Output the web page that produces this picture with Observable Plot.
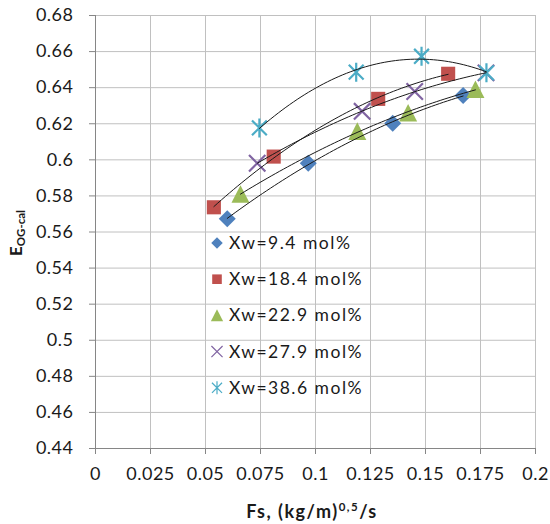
<!DOCTYPE html>
<html>
<head>
<meta charset="utf-8">
<script src="https://cdn.jsdelivr.net/npm/d3@7"></script>
<script src="https://cdn.jsdelivr.net/npm/@observablehq/plot@0.6"></script>
<style>
  html, body { margin: 0; padding: 0; background: #fff; }
  #chart svg { display: block; }
  #chart svg g[aria-label="x-axis tick label"] text,
  #chart svg g[aria-label="y-axis tick label"] text { letter-spacing: 0.5px; }
</style>
</head>
<body>
<div id="chart"></div>
<script>
// ---- Data ----
const xTicks = [0, 0.025, 0.05, 0.075, 0.1, 0.125, 0.15, 0.175, 0.2];
const xTickLabels = ["0", "0.025", "0.05", "0.075", "0.1", "0.125", "0.15", "0.175", "0.2"];
const yTicks = [0.44, 0.46, 0.48, 0.5, 0.52, 0.54, 0.56, 0.58, 0.6, 0.62, 0.64, 0.66, 0.68];
const yTickLabels = ["0.44", "0.46", "0.48", "0.5", "0.52", "0.54", "0.56", "0.58", "0.6", "0.62", "0.64", "0.66", "0.68"];

const seriesNames = ["Xw=9.4 mol%", "Xw=18.4 mol%", "Xw=22.9 mol%", "Xw=27.9 mol%", "Xw=38.6 mol%"];
const fs_94  = [0.0599, 0.0967, 0.1351, 0.1671];
const e_94   = [0.5673, 0.5981, 0.6203, 0.6357];
const fs_184 = [0.0538, 0.0810, 0.1285, 0.1603];
const e_184  = [0.5737, 0.6018, 0.6338, 0.6477];
const fs_229 = [0.0659, 0.1190, 0.1421, 0.1727];
const e_229  = [0.5809, 0.6158, 0.6260, 0.6390];
const fs_279 = [0.0735, 0.1212, 0.1451, 0.1775];
const e_279  = [0.5981, 0.6269, 0.6379, 0.6482];
const fs_386 = [0.0745, 0.1185, 0.1482, 0.1777];
const e_386  = [0.6177, 0.6486, 0.6574, 0.6482];

const xLabel = "Fs, (kg/m)";
const xLabelSup = "0,5";
const xLabelEnd = "/s";
const yLabelMain = "E";
const yLabelSub = "OG-cal";

const FONT = "Lato, 'Open Sans', sans-serif";

// ---- Symbols ----
const rad = (size) => Math.sqrt(size / Math.PI);
const symDiamond = { draw(c, size) { const r = rad(size); c.moveTo(0, -r); c.lineTo(r, 0); c.lineTo(0, r); c.lineTo(-r, 0); c.closePath(); } };
const symSquare = { draw(c, size) { const r = rad(size) * 0.85; c.rect(-r, -r, 2 * r, 2 * r); } };
const symTriangle = { draw(c, size) { const r = rad(size); c.moveTo(0, -r); c.lineTo(r, r * 0.95); c.lineTo(-r, r * 0.95); c.closePath(); } };
const symTimes = { draw(c, size) { const r = rad(size); c.moveTo(-r, -r); c.lineTo(r, r); c.moveTo(r, -r); c.lineTo(-r, r); } };
const symStar = { draw(c, size) { const r = rad(size); const d = r * 0.78; c.moveTo(0, -r); c.lineTo(0, r); c.moveTo(-d, -d); c.lineTo(d, d); c.moveTo(d, -d); c.lineTo(-d, d); } };

const series = [
  { name: seriesNames[0], xs: fs_94, ys: e_94, sym: symDiamond, color: "#4F81BD", filled: true, r: 8.5 },
  { name: seriesNames[1], xs: fs_184, ys: e_184, sym: symSquare, color: "#C0504D", filled: true, r: 8.3 },
  { name: seriesNames[2], xs: fs_229, ys: e_229, sym: symTriangle, color: "#9BBB59", filled: true, r: 9 },
  { name: seriesNames[3], xs: fs_279, ys: e_279, sym: symTimes, color: "#8064A2", filled: false, r: 8.2 },
  { name: seriesNames[4], xs: fs_386, ys: e_386, sym: symStar, color: "#4BACC6", filled: false, r: 9.5 }
];

// ---- Quadratic (order 2 polynomial) trendline via least squares ----
function quadFit(xs, ys) {
  let S = [0,0,0,0,0], T = [0,0,0];
  xs.forEach((x, i) => {
    for (let k = 0; k < 5; k++) S[k] += Math.pow(x, k);
    for (let k = 0; k < 3; k++) T[k] += ys[i] * Math.pow(x, k);
  });
  const A = [[S[0], S[1], S[2], T[0]], [S[1], S[2], S[3], T[1]], [S[2], S[3], S[4], T[2]]];
  for (let i = 0; i < 3; i++) {
    let p = i;
    for (let j = i + 1; j < 3; j++) if (Math.abs(A[j][i]) > Math.abs(A[p][i])) p = j;
    [A[i], A[p]] = [A[p], A[i]];
    for (let j = 0; j < 3; j++) {
      if (j === i) continue;
      const f = A[j][i] / A[i][i];
      for (let k = i; k < 4; k++) A[j][k] -= f * A[i][k];
    }
  }
  const c = [A[0][3] / A[0][0], A[1][3] / A[1][1], A[2][3] / A[2][2]];
  return (x) => c[0] + c[1] * x + c[2] * x * x;
}

const marks = [
  Plot.gridX(xTicks, { stroke: "#c0c0c0", strokeOpacity: 1, strokeWidth: 1 }),
  Plot.gridY(yTicks, { stroke: "#c0c0c0", strokeOpacity: 1, strokeWidth: 1 }),
  Plot.ruleX([0], { stroke: "#868686" }),
  Plot.ruleY([0.44], { stroke: "#868686" }),
  Plot.axisX(xTicks, { tickSize: 6, tickPadding: 13, stroke: "#868686", fill: "#1a1a1a", fontSize: 18, tickFormat: d => xTickLabels[xTicks.indexOf(d)], label: null }),
  Plot.axisY(yTicks, { tickSize: 6, tickPadding: 16, stroke: "#868686", fill: "#1a1a1a", fontSize: 18, tickFormat: d => yTickLabels[yTicks.indexOf(d)], label: null })
];

series.forEach(s => {
  const pts = s.xs.map((x, i) => ({ x, y: s.ys[i] }));
  marks.push(Plot.dot(pts, {
    x: "x", y: "y", symbol: s.sym, r: s.r,
    fill: s.filled ? s.color : "none",
    stroke: s.filled ? "none" : s.color,
    strokeWidth: s.filled ? 0 : 2.2
  }));
});

series.forEach(s => {
  const f = quadFit(s.xs, s.ys);
  const lo = d3.min(s.xs), hi = d3.max(s.xs);
  const N = 60;
  const curve = d3.range(N + 1).map(i => { const x = lo + (hi - lo) * i / N; return { x, y: f(x) }; });
  marks.push(Plot.line(curve, { x: "x", y: "y", stroke: "#1a1a1a", strokeWidth: 1 }));
});

const plot = Plot.plot({
  width: 550,
  height: 524,
  marginLeft: 95,
  marginRight: 15,
  marginTop: 15,
  marginBottom: 76,
  style: { fontFamily: FONT, background: "#fff", overflow: "visible" },
  x: { domain: [0, 0.2] },
  y: { domain: [0.44, 0.68] },
  marks
});

document.getElementById("chart").appendChild(plot);

// ---- Axis titles and in-plot legend ----
const svg = d3.select(plot);
const xl = svg.append("text")
  .attr("x", 312).attr("y", 518)
  .attr("text-anchor", "middle")
  .attr("font-family", FONT)
  .attr("letter-spacing", 1.5)
  .attr("font-weight", "bold").attr("font-size", 18).attr("fill", "#1a1a1a");
xl.append("tspan").text(xLabel);
xl.append("tspan").attr("font-size", 11.5).attr("dy", -7).text(xLabelSup);
xl.append("tspan").attr("dy", 7).text(xLabelEnd);

const yl = svg.append("text")
  .attr("transform", "translate(22,256) rotate(-90)")
  .attr("text-anchor", "start")
  .attr("font-family", FONT)
  .attr("font-weight", "bold").attr("font-size", 17).attr("fill", "#1a1a1a");
yl.append("tspan").text(yLabelMain);
yl.append("tspan").attr("font-size", 11.5).attr("dy", 3).text(yLabelSub);

const legend = svg.append("g").attr("transform", "translate(217,243)");
series.forEach((s, i) => {
  const g = legend.append("g").attr("transform", `translate(0,${i * 36.2})`);
  g.append("path")
    .attr("d", d3.symbol(s.sym, Math.PI * Math.pow(s.r * 0.68, 2))())
    .attr("fill", s.filled ? s.color : "none")
    .attr("stroke", s.filled ? "none" : s.color)
    .attr("stroke-width", s.filled ? 0 : 1.2);
  g.append("text")
    .attr("x", 12).attr("y", 6)
    .attr("text-anchor", "start")
    .attr("font-family", FONT)
    .attr("letter-spacing", 1.5)
    .attr("font-size", 17.5).attr("fill", "#1a1a1a")
    .text(s.name);
});
</script>
</body>
</html>
